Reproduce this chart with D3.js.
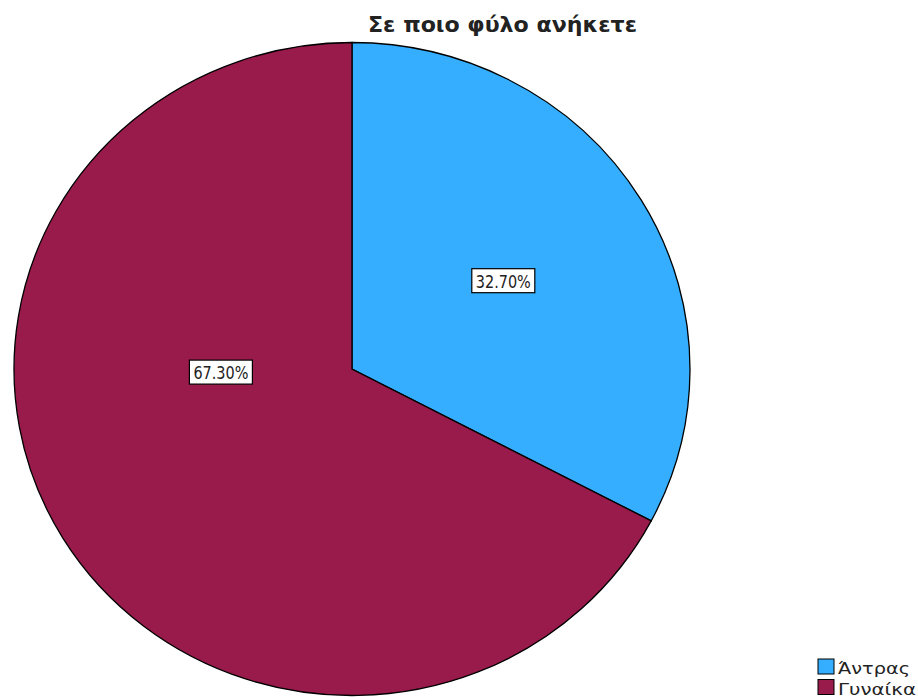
<!DOCTYPE html>
<html>
<head>
<meta charset="utf-8">
<script src="https://cdn.jsdelivr.net/npm/d3@7"></script>
<style>
  html, body { margin: 0; padding: 0; background: #fff; }
  svg { display: block; }
</style>
</head>
<body>
<svg id="chart" width="918" height="699"></svg>
<script>
// Gender distribution of respondents
const title = "Σε ποιο φύλο ανήκετε";
const categories = ["Άντρας", "Γυναίκα"];
const percents = [32.70, 67.30];
const colors = ["#35AEFF", "#981B4B"];

const svg = d3.select("#chart");

// Pie geometry (drawn slightly flattened vertically)
const cx = 352, cy = 369, rx = 338, ry = 326.5;

const data = categories.map((c, i) => ({ cat: c, value: percents[i], color: colors[i] }));
const pie = d3.pie().sort(null).value(d => d.value);
const arcs = pie(data);
const arc = d3.arc().innerRadius(0).outerRadius(rx);

const g = svg.append("g")
  .attr("transform", `translate(${cx},${cy}) scale(1,${ry / rx})`);

g.selectAll("path.slice")
  .data(arcs)
  .enter().append("path")
  .attr("class", "slice")
  .attr("d", arc)
  .attr("fill", d => d.data.color)
  .attr("stroke", "#000")
  .attr("stroke-width", 1.3)
  .attr("vector-effect", "non-scaling-stroke");

// Value labels: placed along each slice at a chosen angle / radius fraction
const labelPlacement = [
  { angleShift: 0.0, radius: 0.523 },
  { angleShift: 0.519, radius: 0.388 }
];
const fmt = v => v.toFixed(2) + "%";

arcs.forEach((a, i) => {
  const mid = (a.startAngle + a.endAngle) / 2 + labelPlacement[i].angleShift;
  const r = rx * labelPlacement[i].radius;
  const x = cx + Math.sin(mid) * r;
  const y = cy - Math.cos(mid) * r * (ry / rx);
  const lg = svg.append("g").attr("transform", `translate(${x},${y})`);
  lg.append("rect")
    .attr("x", -31.5)
    .attr("y", -12)
    .attr("width", 63)
    .attr("height", 24)
    .attr("fill", "#fff")
    .attr("stroke", "#000")
    .attr("stroke-width", 1.2);
  lg.append("text")
    .attr("x", -27.5)
    .attr("y", 7)
    .attr("textLength", 55)
    .attr("lengthAdjust", "spacingAndGlyphs")
    .attr("font-family", "DejaVu Sans, Verdana, sans-serif")
    .attr("font-size", 18)
    .attr("fill", "#222")
    .text(fmt(a.data.value));
});

// Title
svg.append("text")
  .attr("x", 368)
  .attr("y", 32)
  .attr("textLength", 269)
  .attr("lengthAdjust", "spacingAndGlyphs")
  .attr("font-family", "DejaVu Sans, Verdana, sans-serif")
  .attr("font-weight", "bold")
  .attr("font-size", 22)
  .attr("fill", "#222")
  .text(title);

// Legend
const legendWidths = [72, 78];
const legend = svg.append("g").attr("transform", "translate(818,659)");
const item = legend.selectAll("g.item")
  .data(data)
  .enter().append("g")
  .attr("class", "item")
  .attr("transform", (d, i) => `translate(0,${i * 20.5})`);
item.append("rect")
  .attr("width", 16)
  .attr("height", 15)
  .attr("fill", d => d.color)
  .attr("stroke", "#000")
  .attr("stroke-width", 1);
item.append("text")
  .attr("x", 20)
  .attr("y", 15)
  .attr("textLength", (d, i) => legendWidths[i])
  .attr("lengthAdjust", "spacingAndGlyphs")
  .attr("font-family", "DejaVu Sans, Verdana, sans-serif")
  .attr("font-size", 16)
  .attr("fill", "#222")
  .text(d => d.cat);
</script>
</body>
</html>
